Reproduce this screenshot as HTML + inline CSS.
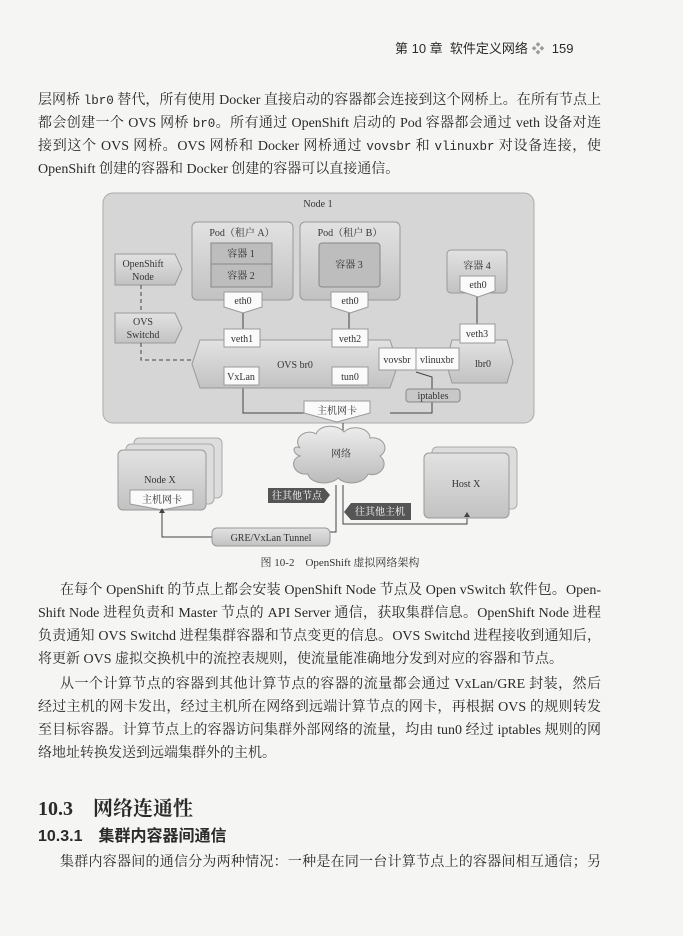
<!DOCTYPE html>
<html><head><meta charset="utf-8"><style>
body{margin:0;width:683px;height:936px;background:#f5f5f3;position:relative;overflow:hidden;font-family:"Liberation Serif","Noto Serif CJK SC",serif;color:#2a2a2a}
.l{position:absolute;left:38px;width:563px;font-size:14px;line-height:18px;white-space:nowrap;text-align:justify;text-align-last:justify}
.m{font-family:"Liberation Mono",monospace;font-size:12.5px}
svg text{font-family:"Liberation Serif","Noto Serif CJK SC",serif;font-size:10px;fill:#333;text-anchor:middle}
</style></head><body>
<div style="position:absolute;left:395px;top:38px;font-size:13px;font-family:'Liberation Sans','Noto Sans CJK SC',sans-serif">第 10 章 &nbsp;软件定义网络 <span style="color:#999">❖</span> &nbsp;159</div>
<div class="l" style="top:92px">层网桥 <span class="m">lbr0</span> 替代，所有使用 Docker 直接启动的容器都会连接到这个网桥上。在所有节点上</div>
<div class="l" style="top:115px">都会创建一个 OVS 网桥 <span class="m">br0</span>。所有通过 OpenShift 启动的 Pod 容器都会通过 veth 设备对连</div>
<div class="l" style="top:138px">接到这个 OVS 网桥。OVS 网桥和 Docker 网桥通过 <span class="m">vovsbr</span> 和 <span class="m">vlinuxbr</span> 对设备连接，使</div>
<div class="l" style="top:161px;width:auto;text-align-last:auto">OpenShift 创建的容器和 Docker 创建的容器可以直接通信。</div>

<svg style="position:absolute;left:0;top:0" width="683" height="580">
<defs>
<linearGradient id="g" x1="0" y1="0" x2="0" y2="1"><stop offset="0" stop-color="#e2e2e2"/><stop offset="1" stop-color="#c2c2c2"/></linearGradient>
<linearGradient id="g2" x1="0" y1="0" x2="0" y2="1"><stop offset="0" stop-color="#eee"/><stop offset="1" stop-color="#bbb"/></linearGradient>
</defs>
<rect x="103" y="193" width="431" height="230" rx="10" fill="#d6d6d6" stroke="#aaa"/>
<text x="318" y="207">Node 1</text>
<rect x="192" y="222" width="101" height="78" rx="5" fill="url(#g)" stroke="#999"/>
<text x="242" y="236">Pod（租户 A）</text>
<rect x="211" y="243" width="61" height="21" fill="#bdbdbd" stroke="#888"/><text x="241" y="257">容器 1</text>
<rect x="211" y="264" width="61" height="23" fill="#bdbdbd" stroke="#888"/><text x="241" y="279">容器 2</text>
<rect x="300" y="222" width="100" height="78" rx="5" fill="url(#g)" stroke="#999"/>
<text x="350" y="236">Pod（租户 B）</text>
<rect x="319" y="243" width="61" height="44" rx="3" fill="#bdbdbd" stroke="#888"/><text x="349" y="268">容器 3</text>
<rect x="447" y="250" width="60" height="43" rx="4" fill="url(#g)" stroke="#999"/><text x="477" y="269">容器 4</text>
<g fill="#fafafa" stroke="#999">
<path d="M224 292h38v15l-19 6l-19-6z"/><path d="M331 292h37v15l-18 6l-19-6z"/><path d="M460 276h35v15l-17 6l-18-6z"/>
</g>
<text x="243" y="304">eth0</text><text x="350" y="304">eth0</text><text x="478" y="288">eth0</text>
<g stroke="#444" fill="none">
<line x1="243" y1="313" x2="243" y2="329"/><line x1="349" y1="313" x2="349" y2="329"/><line x1="477" y1="297" x2="477" y2="324"/>
<polyline points="243,385 243,413 304,413"/><polyline points="416,372 432,377 432,413 390,413"/>
<line x1="343" y1="423" x2="343" y2="432"/>
<polyline points="343,485 343,524 467,524 467,514"/>
<polyline points="336,485 336,532 330,532"/>
<polyline points="212,537 162,537 162,512"/>
</g>
<path d="M200 340h190l8 24l-8 24h-190l-8-24z" fill="url(#g)" stroke="#999"/>
<text x="295" y="368">OVS br0</text>
<path d="M452 340h55l6 22l-6 21h-55l-6-21z" fill="url(#g)" stroke="#999"/>
<text x="483" y="367">lbr0</text>
<g fill="#fafafa" stroke="#999">
<rect x="224" y="329" width="36" height="18"/><rect x="332" y="329" width="36" height="18"/><rect x="460" y="324" width="35" height="19"/>
<rect x="379" y="348" width="37" height="22"/><rect x="416" y="348" width="43" height="22"/>
<rect x="224" y="367" width="35" height="18"/><rect x="332" y="367" width="36" height="18"/>
<path d="M304 401h66v12l-33 9l-33-9z"/><path d="M130 490h63v14l-31 6l-32-6z"/>
</g>
<text x="242" y="342">veth1</text><text x="350" y="342">veth2</text><text x="477" y="337">veth3</text>
<text x="397" y="363">vovsbr</text><text x="437" y="363">vlinuxbr</text>
<text x="241" y="380">VxLan</text><text x="350" y="380">tun0</text>
<rect x="406" y="389" width="54" height="13" rx="3" fill="#c8c8c8" stroke="#888"/><text x="433" y="399">iptables</text>
<text x="337" y="414">主机网卡</text>
<path d="M115 254h60l7 15l-7 16h-60z" fill="url(#g)" stroke="#999"/><text x="143" y="267">OpenShift</text><text x="143" y="280">Node</text>
<path d="M115 313h60l7 15l-7 15h-60z" fill="url(#g)" stroke="#999"/><text x="143" y="325">OVS</text><text x="143" y="338">Switchd</text>
<polyline points="141,285 141,313" stroke="#444" stroke-dasharray="4,3" fill="none"/>
<polyline points="141,343 141,360 193,360" stroke="#444" stroke-dasharray="4,3" fill="none"/>
<path d="M300 448c-8-10 6-20 16-14c4-10 22-10 28-2c8-8 26-4 26 6c14-2 20 12 10 18c10 8 0 22-12 18c-4 10-22 12-30 4c-8 8-28 6-30-4c-14 2-20-14-8-18c-8-2-8-12 0-8z" fill="url(#g2)" stroke="#999"/>
<text x="341" y="457">网络</text>
<rect x="134" y="438" width="88" height="60" rx="5" fill="#ddd" stroke="#aaa"/>
<rect x="126" y="444" width="88" height="60" rx="5" fill="#ddd" stroke="#aaa"/>
<rect x="118" y="450" width="88" height="60" rx="5" fill="url(#g)" stroke="#999"/>
<text x="160" y="483">Node X</text>
<path d="M130 490h63v14l-31 6l-32-6z" fill="#fafafa" stroke="#999"/><text x="162" y="503">主机网卡</text>
<rect x="432" y="447" width="85" height="62" rx="5" fill="#ddd" stroke="#aaa"/>
<rect x="424" y="453" width="85" height="65" rx="5" fill="url(#g)" stroke="#999"/>
<text x="466" y="487">Host X</text>
<path d="M268 488h56l6 7l-6 8h-56z" fill="#555"/><text x="297" y="499" style="fill:#fff">往其他节点</text>
<path d="M351 503h60v17h-60l-7-8z" fill="#555"/><text x="380" y="515" style="fill:#fff">往其他主机</text>
<rect x="212" y="528" width="118" height="18" rx="5" fill="url(#g)" stroke="#999"/>
<text x="271" y="541">GRE/VxLan Tunnel</text>
<path d="M162 508l-3 5h6z" fill="#444"/><path d="M467 512l-3 5h6z" fill="#444"/>
<text x="340" y="566" style="font-size:11px">图 10-2　OpenShift 虚拟网络架构</text>
</svg>

<div class="l" style="top:582px;left:60px;width:541px">在每个 OpenShift 的节点上都会安装 OpenShift Node 节点及 Open vSwitch 软件包。Open-</div>
<div class="l" style="top:605px">Shift Node 进程负责和 Master 节点的 API Server 通信，获取集群信息。OpenShift Node 进程</div>
<div class="l" style="top:628px">负责通知 OVS Switchd 进程集群容器和节点变更的信息。OVS Switchd 进程接收到通知后，</div>
<div class="l" style="top:651px;width:auto;text-align-last:auto">将更新 OVS 虚拟交换机中的流控表规则，使流量能准确地分发到对应的容器和节点。</div>
<div class="l" style="top:676px;left:60px;width:541px">从一个计算节点的容器到其他计算节点的容器的流量都会通过 VxLan/GRE 封装，然后</div>
<div class="l" style="top:699px">经过主机的网卡发出，经过主机所在网络到远端计算节点的网卡，再根据 OVS 的规则转发</div>
<div class="l" style="top:722px">至目标容器。计算节点上的容器访问集群外部网络的流量，均由 tun0 经过 iptables 规则的网</div>
<div class="l" style="top:745px;width:auto;text-align-last:auto">络地址转换发送到远端集群外的主机。</div>
<div style="position:absolute;left:38px;top:792px;font-size:20px;font-weight:bold">10.3　网络连通性</div>
<div style="position:absolute;left:38px;top:822px;font-size:16px;font-weight:bold;font-family:'Liberation Sans','Noto Sans CJK SC',sans-serif">10.3.1　集群内容器间通信</div>
<div class="l" style="top:854px;left:60px;width:541px">集群内容器间的通信分为两种情况：一种是在同一台计算节点上的容器间相互通信；另</div>
</body></html>
